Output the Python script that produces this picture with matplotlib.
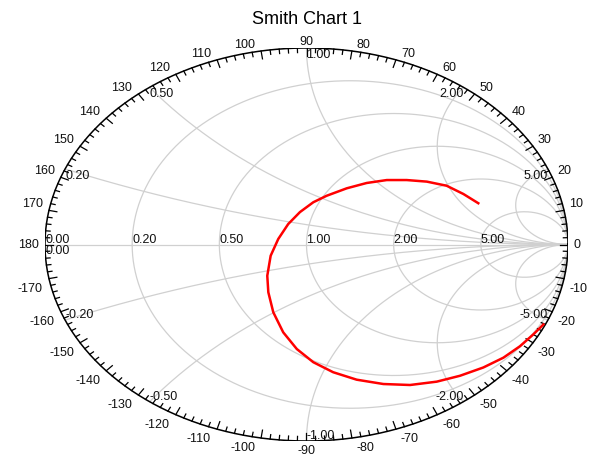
import numpy as np
import matplotlib.pyplot as plt

plt.rcParams['font.family'] = ['Liberation Sans', 'DejaVu Sans']

# chart values
title = "Smith Chart 1"
resistances = [0.0, 0.2, 0.5, 1.0, 2.0, 5.0]
reactances = [0.2, 0.5, 1.0, 2.0, 5.0]
angle_labels = list(range(-170, 190, 10))

# red trace, reflection coefficient (real, imag)
gamma_re = [0.657, 0.600, 0.536, 0.460, 0.383, 0.307, 0.230, 0.154, 0.077, 0.026,
            -0.025, -0.070, -0.108, -0.137, -0.150, -0.146, -0.127, -0.089, -0.037,
            0.026, 0.102, 0.192, 0.294, 0.396, 0.498, 0.587, 0.676, 0.753, 0.816,
            0.867, 0.906]
gamma_im = [0.210, 0.257, 0.299, 0.320, 0.328, 0.328, 0.313, 0.286, 0.248, 0.215,
            0.165, 0.104, 0.028, -0.057, -0.159, -0.243, -0.345, -0.447, -0.532,
            -0.599, -0.650, -0.688, -0.710, -0.715, -0.698, -0.668, -0.626, -0.576,
            -0.518, -0.458, -0.407]

W, H = 593, 456
fig = plt.figure(figsize=(W / 100, H / 100), dpi=100)
ax_w, ax_h = 523, 393
ax = fig.add_axes([45 / W, 14 / H, ax_w / W, ax_h / H])
ax.set_xlim(-1, 1)
ax.set_ylim(-1, 1)
ax.axis('off')
sx, sy = ax_w / 2, ax_h / 2  # pixels per unit

grid_kw = dict(color='#d0d0d0', lw=0.9, zorder=1)
fs = 9
txt = '#111111'


def gamma(z):
    return (z - 1) / (z + 1)


# resistance circles
t = np.linspace(-np.pi / 2 + 1e-4, np.pi / 2 - 1e-4, 600)
for r in resistances[1:]:
    g = gamma(r + 1j * np.tan(t))
    ax.plot(g.real, g.imag, **grid_kw)
ax.plot([-1, 1], [0, 0], **grid_kw)

# reactance arcs
tr = np.linspace(0, np.pi / 2 - 1e-4, 600)
for x in reactances:
    for s in (1, -1):
        g = gamma(np.tan(tr) + 1j * s * x)
        ax.plot(g.real, g.imag, **grid_kw)

# outer circle
th = np.linspace(0, 2 * np.pi, 720)
ax.plot(np.cos(th), np.sin(th), color='black', lw=1.1, zorder=3)

# degree ticks
for a in range(0, 360, 2):
    rad = np.radians(a)
    L = 8 if a % 10 == 0 else 4.5
    c, s = np.cos(rad), np.sin(rad)
    ax.plot([c, c - L * c / sx], [s, s - L * s / sy], color='black', lw=0.9, zorder=3)

# degree labels
for a in angle_labels:
    rad = np.radians(a)
    c, s = np.cos(rad), np.sin(rad)
    if abs(c) < 1e-6:
        ha, dx = 'center', 0
    elif c > 0:
        ha, dx = 'left', 5
    else:
        ha, dx = 'right', -6
    if abs(s) < 1e-6:
        va, dy = 'center', 0
    elif s > 0:
        va, dy = 'bottom', 1
    else:
        va, dy = 'top', -3
    ax.annotate(str(a), xy=(c, s), xytext=(dx, dy), textcoords='offset pixels',
                ha=ha, va=va, fontsize=fs, color=txt)

# resistance labels
for r in resistances:
    g = gamma(r)
    ax.annotate('%.2f' % r, xy=(g, 0), xytext=(0, -1), textcoords='offset pixels',
                ha='left', va='bottom', fontsize=fs, color=txt, zorder=4)

# reactance labels
for x in [0.0] + reactances:
    for s in (1, -1):
        if x == 0 and s == -1:
            continue
        g = gamma(1j * x * s) if x != 0 else -1 + 0j
        ha = 'right' if g.real > 1e-6 else 'left'
        va = 'top' if s > 0 else 'bottom'
        lab = '%.2f' % (x * s)
        ax.annotate(lab, xy=(g.real, g.imag), xytext=(0, 0), textcoords='offset pixels',
                    ha=ha, va=va, fontsize=fs, color=txt, zorder=4)

# data trace
ax.plot(gamma_re, gamma_im, color='red', lw=1.8, zorder=5, clip_on=False)

fig.text(307 / W, 1 - 20 / H, title, ha='center', va='center', fontsize=13)

fig.savefig('out.png', dpi=100)
